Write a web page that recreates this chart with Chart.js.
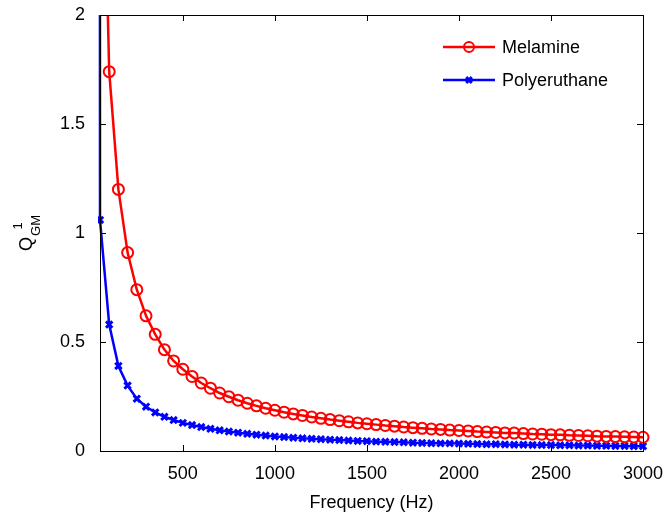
<!DOCTYPE html>
<html lang="en">
<head>
    <meta charset="UTF-8">
    <title>Q GM vs frequency</title>
    <script src="https://cdn.jsdelivr.net/npm/chart.js"></script>
    <style>
        body {
            margin: 0;
            background-color: #ffffff;
        }
        canvas {
            display: block;
        }
    </style>
</head>
<body>
    <canvas id="qgmChart" width="670" height="518"></canvas>

    <script>
        // frequency grid (Hz)
        const freqs = [
            50, 100, 150, 200, 250, 300, 350, 400, 450, 500,
            550, 600, 650, 700, 750, 800, 850, 900, 950, 1000,
            1050, 1100, 1150, 1200, 1250, 1300, 1350, 1400, 1450, 1500,
            1550, 1600, 1650, 1700, 1750, 1800, 1850, 1900, 1950, 2000,
            2050, 2100, 2150, 2200, 2250, 2300, 2350, 2400, 2450, 2500,
            2550, 2600, 2650, 2700, 2750, 2800, 2850, 2900, 2950, 3000
        ];

        const melamine = [
            3.5, 1.74, 1.20, 0.91, 0.74, 0.62, 0.535, 0.465, 0.413, 0.375,
            0.342, 0.312, 0.288, 0.266, 0.249, 0.233, 0.219, 0.207, 0.196, 0.187,
            0.178, 0.170, 0.163, 0.156, 0.150, 0.144, 0.139, 0.134, 0.129, 0.125,
            0.121, 0.117, 0.114, 0.110, 0.107, 0.104, 0.101, 0.099, 0.096, 0.094,
            0.092, 0.089, 0.087, 0.085, 0.083, 0.082, 0.080, 0.078, 0.077, 0.075,
            0.074, 0.072, 0.071, 0.070, 0.068, 0.067, 0.066, 0.065, 0.064, 0.063
        ];

        const polyurethane = [
            1.06, 0.58, 0.39, 0.30, 0.24, 0.203, 0.177, 0.157, 0.142, 0.129,
            0.119, 0.110, 0.102, 0.095, 0.089, 0.084, 0.079, 0.075, 0.071, 0.067,
            0.064, 0.061, 0.058, 0.056, 0.054, 0.052, 0.050, 0.048, 0.046, 0.045,
            0.043, 0.042, 0.041, 0.040, 0.038, 0.037, 0.036, 0.035, 0.035, 0.034,
            0.033, 0.032, 0.031, 0.031, 0.030, 0.029, 0.029, 0.028, 0.027, 0.027,
            0.026, 0.026, 0.025, 0.025, 0.024, 0.024, 0.023, 0.023, 0.022, 0.022
        ];

        // polyurethane curve shoots up just below the first grid frequency
        const polyLeadFreq = 49;
        const polyLeadValue = 4;

        const xTicks = [500, 1000, 1500, 2000, 2500, 3000];
        const yTicks = [0, 0.5, 1, 1.5, 2];
        const seriesNames = ['Melamine', 'Polyeruthane'];

        const FONT = 'Liberation Sans, Arial, Helvetica, sans-serif';

        const melaminePts = freqs.map((f, i) => ({x: f, y: melamine[i]}));
        const polyPts = [{x: polyLeadFreq, y: polyLeadValue}]
            .concat(freqs.map((f, i) => ({x: f, y: polyurethane[i]})));

        // box around the axes with inward tick marks on all four sides
        const framePlugin = {
            id: 'frame',
            afterDraw(chart) {
                const {ctx, chartArea: a, scales} = chart;
                const len = 6;
                ctx.save();
                ctx.strokeStyle = '#000';
                ctx.lineWidth = 1;
                ctx.strokeRect(Math.round(a.left) + 0.5, Math.round(a.top) + 0.5,
                    Math.round(a.right - a.left), Math.round(a.bottom - a.top));
                ctx.beginPath();
                xTicks.forEach(v => {
                    const px = Math.round(scales.x.getPixelForValue(v)) + 0.5;
                    ctx.moveTo(px, a.bottom); ctx.lineTo(px, a.bottom - len);
                    ctx.moveTo(px, a.top); ctx.lineTo(px, a.top + len);
                });
                yTicks.forEach(v => {
                    const py = Math.round(scales.y.getPixelForValue(v)) + 0.5;
                    ctx.moveTo(a.left, py); ctx.lineTo(a.left + len, py);
                    ctx.moveTo(a.right, py); ctx.lineTo(a.right - len, py);
                });
                ctx.stroke();
                ctx.restore();
            }
        };

        // legend in the upper right corner, no box
        const legendPlugin = {
            id: 'cornerLegend',
            afterDraw(chart) {
                const {ctx} = chart;
                const rows = [47, 80];
                ctx.save();
                chart.data.datasets.forEach((ds, i) => {
                    const y = rows[i];
                    ctx.strokeStyle = ds.borderColor;
                    ctx.lineWidth = ds.borderWidth;
                    ctx.beginPath();
                    ctx.moveTo(443, y);
                    ctx.lineTo(495, y);
                    ctx.stroke();
                    ctx.lineWidth = ds.pointBorderWidth;
                    ctx.fillStyle = ds.pointBackgroundColor;
                    Chart.helpers.drawPoint(ctx, {
                        pointStyle: ds.pointStyle,
                        rotation: 0,
                        radius: ds.legendRadius,
                        borderWidth: ds.pointBorderWidth
                    }, 469, y);
                    ctx.fillStyle = '#000';
                    ctx.font = '18px ' + FONT;
                    ctx.textAlign = 'left';
                    ctx.textBaseline = 'middle';
                    ctx.fillText(ds.label, 502, y + 1);
                });
                ctx.restore();
            }
        };

        // y label Q with subscript GM and superscript 1, rotated
        const yTitlePlugin = {
            id: 'yTitle',
            afterDraw(chart) {
                const {ctx, chartArea: a} = chart;
                const bigFont = '18px ' + FONT;
                const smallFont = '13px ' + FONT;
                ctx.save();
                ctx.font = bigFont;
                const qW = ctx.measureText('Q').width;
                ctx.font = smallFont;
                const gmW = ctx.measureText('GM').width;
                const total = qW + 1 + gmW;
                const cy = (a.top + a.bottom) / 2;
                ctx.translate(32, cy + total / 2);
                ctx.rotate(-Math.PI / 2);
                ctx.fillStyle = '#000';
                ctx.textAlign = 'left';
                ctx.textBaseline = 'alphabetic';
                ctx.font = bigFont;
                ctx.fillText('Q', 0, 0);
                ctx.font = smallFont;
                ctx.fillText('GM', qW + 1, 8);
                ctx.fillText('1', qW + 1 + gmW / 2 - 4, -10);
                ctx.restore();
            }
        };

        const tickFont = {family: FONT, size: 18};

        new Chart(document.getElementById('qgmChart').getContext('2d'), {
            type: 'line',
            data: {
                datasets: [{
                    label: seriesNames[0],
                    data: melaminePts,
                    borderColor: '#ff0000',
                    borderWidth: 2.5,
                    pointStyle: 'circle',
                    pointRadius: 5.5,
                    legendRadius: 5,
                    pointBorderWidth: 2,
                    pointBorderColor: '#ff0000',
                    pointBackgroundColor: 'rgba(0,0,0,0)',
                    tension: 0,
                    clip: {left: 2, top: 0, right: 10, bottom: 10}
                }, {
                    label: seriesNames[1],
                    data: polyPts,
                    borderColor: '#0000ff',
                    borderWidth: 2.5,
                    pointStyle: 'crossRot',
                    pointRadius: polyPts.map((p, i) => i === 0 ? 0 : 4.5),
                    legendRadius: 4,
                    pointBorderWidth: 3,
                    pointBorderColor: '#0000ff',
                    pointBackgroundColor: '#0000ff',
                    tension: 0,
                    clip: {left: 2, top: 0, right: 10, bottom: 10}
                }]
            },
            options: {
                responsive: false,
                animation: false,
                layout: {padding: {left: 0, right: 27, top: 15, bottom: 0}},
                plugins: {
                    legend: {display: false},
                    tooltip: {enabled: false}
                },
                scales: {
                    x: {
                        type: 'linear',
                        min: 50,
                        max: 3000,
                        afterBuildTicks: s => { s.ticks = xTicks.map(v => ({value: v})); },
                        afterFit: s => {
                            s.height = 67;
                            s.paddingLeft = 0;
                            s.paddingRight = 0;
                        },
                        grid: {display: false, drawTicks: false},
                        border: {display: true, color: '#000'},
                        ticks: {
                            font: tickFont,
                            color: '#000',
                            padding: 12,
                            maxRotation: 0,
                            callback: v => String(v)
                        },
                        title: {
                            display: true,
                            text: 'Frequency (Hz)',
                            font: tickFont,
                            color: '#000',
                            padding: {top: 4, bottom: 4}
                        }
                    },
                    y: {
                        type: 'linear',
                        min: 0,
                        max: 2,
                        afterBuildTicks: s => { s.ticks = yTicks.map(v => ({value: v})); },
                        afterFit: s => {
                            s.width = 100;
                            s.paddingTop = 0;
                            s.paddingBottom = 0;
                        },
                        grid: {display: false, drawTicks: false},
                        border: {display: true, color: '#000'},
                        ticks: {
                            font: tickFont,
                            color: '#000',
                            padding: 15,
                            callback: v => String(v)
                        }
                    }
                }
            },
            plugins: [framePlugin, legendPlugin, yTitlePlugin]
        });
    </script>
</body>
</html>
